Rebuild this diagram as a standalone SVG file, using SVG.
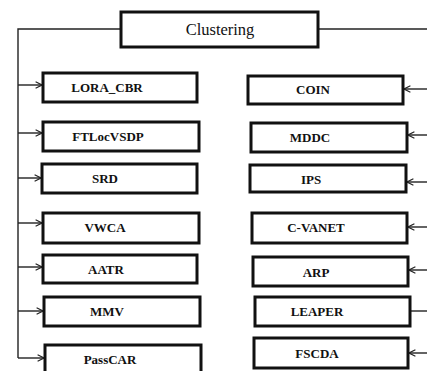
<svg xmlns="http://www.w3.org/2000/svg" width="427" height="371" viewBox="0 0 427 371">
<style>
.box{fill:#fff;stroke:#111;stroke-width:3}
.lbl{font-family:"Liberation Serif","Times New Roman",serif;font-weight:bold;font-size:13px;fill:#111;text-anchor:middle}
.title{font-family:"Liberation Serif","Times New Roman",serif;font-size:16.5px;fill:#111;text-anchor:middle}
.ln{fill:none;stroke:#222;stroke-width:1.4}
</style>
<defs>
<marker id="ah" viewBox="0 0 10 10" refX="9" refY="5" markerWidth="8" markerHeight="8" markerUnits="userSpaceOnUse" orient="auto">
<path d="M1,1 L9,5 L1,9" fill="none" stroke="#222" stroke-width="1.4"/>
</marker>
</defs>
<g id="connectors">
<path class="ln" d="M121,29 H18 V358"/>
<path class="ln" d="M318,29 H427"/>
<path class="ln" d="M18,85 H42" marker-end="url(#ah)"/>
<path class="ln" d="M18,133 H42" marker-end="url(#ah)"/>
<path class="ln" d="M18,178 H41" marker-end="url(#ah)"/>
<path class="ln" d="M18,223 H42" marker-end="url(#ah)"/>
<path class="ln" d="M18,267 H42" marker-end="url(#ah)"/>
<path class="ln" d="M18,311 H43" marker-end="url(#ah)"/>
<path class="ln" d="M18,358 H44" marker-end="url(#ah)"/>
<path class="ln" d="M427,89 H404" marker-end="url(#ah)"/>
<path class="ln" d="M427,135 H408" marker-end="url(#ah)"/>
<path class="ln" d="M427,182 H407" marker-end="url(#ah)"/>
<path class="ln" d="M427,227 H408" marker-end="url(#ah)"/>
<path class="ln" d="M427,270 H409" marker-end="url(#ah)"/>
<path class="ln" d="M427,311 H411"/>
<path class="ln" d="M427,353 H409" marker-end="url(#ah)"/>
</g>
<g id="clustering"><rect class="box" x="121" y="12" width="197" height="35"/><text class="title" x="220" y="35">Clustering</text></g>
<g id="lora_cbr"><rect class="box" x="43" y="73" width="154" height="29"/><text class="lbl" x="107" y="92">LORA_CBR</text></g>
<g id="ftlocvsdp"><rect class="box" x="43" y="122" width="156" height="29"/><text class="lbl" x="108" y="141">FTLocVSDP</text></g>
<g id="srd"><rect class="box" x="42" y="164" width="155" height="29"/><text class="lbl" x="105" y="183">SRD</text></g>
<g id="vwca"><rect class="box" x="43" y="213" width="156" height="30"/><text class="lbl" x="105" y="232">VWCA</text></g>
<g id="aatr"><rect class="box" x="43" y="255" width="154" height="28"/><text class="lbl" x="106" y="274">AATR</text></g>
<g id="mmv"><rect class="box" x="44" y="297" width="156" height="29"/><text class="lbl" x="107" y="316">MMV</text></g>
<g id="passcar"><rect class="box" x="45" y="345" width="156" height="32"/><text class="lbl" x="110" y="364">PassCAR</text></g>
<g id="coin"><rect class="box" x="248" y="76" width="155" height="28"/><text class="lbl" x="313" y="94">COIN</text></g>
<g id="mddc"><rect class="box" x="251" y="123" width="156" height="29"/><text class="lbl" x="310" y="142">MDDC</text></g>
<g id="ips"><rect class="box" x="250" y="165" width="156" height="27"/><text class="lbl" x="311" y="184">IPS</text></g>
<g id="c_vanet"><rect class="box" x="252" y="213" width="155" height="30"/><text class="lbl" x="316" y="232">C-VANET</text></g>
<g id="arp"><rect class="box" x="253" y="257" width="155" height="29"/><text class="lbl" x="316" y="277">ARP</text></g>
<g id="leaper"><rect class="box" x="255" y="297" width="155" height="29"/><text class="lbl" x="317" y="316">LEAPER</text></g>
<g id="fscda"><rect class="box" x="254" y="338" width="154" height="30"/><text class="lbl" x="317" y="358">FSCDA</text></g>
</svg>
